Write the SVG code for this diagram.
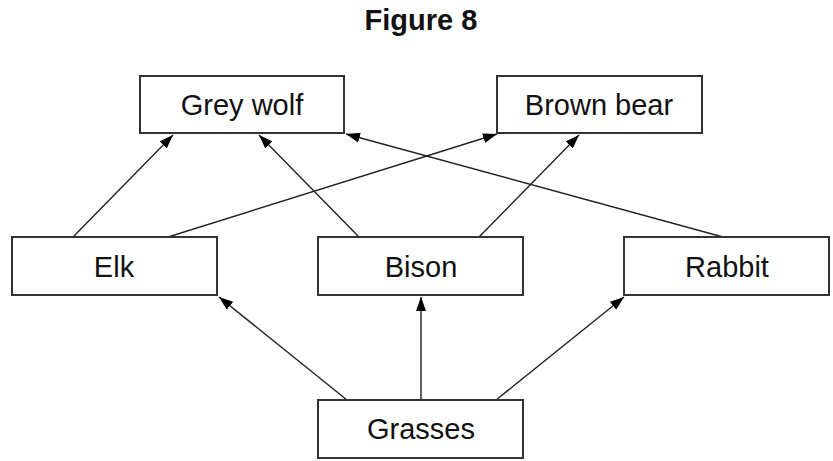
<svg xmlns="http://www.w3.org/2000/svg" width="833" height="461" viewBox="0 0 833 461">
<defs>
<marker id="ah" viewBox="0 0 14 10" refX="14" refY="5" markerWidth="14" markerHeight="10" markerUnits="userSpaceOnUse" orient="auto">
<path d="M0,0 L14,5 L0,10 Z" fill="#000"/>
</marker>
</defs>
<style>
.box{fill:#fff;stroke:#333;stroke-width:2}
.lbl{font-family:"Liberation Sans",Arial,sans-serif;font-size:29px;fill:#111;text-anchor:middle}
.ttl{font-family:"Liberation Sans",Arial,sans-serif;font-size:29px;font-weight:bold;fill:#111;text-anchor:middle}
.con{stroke:#222;stroke-width:1.4;fill:none;marker-end:url(#ah)}
</style>
<rect width="833" height="461" fill="#fff"/>
<text class="ttl" x="421" y="30">Figure 8</text>
<g id="connectors">
<line class="con" x1="73" y1="237" x2="173" y2="135"/>
<line class="con" x1="168" y1="237" x2="497" y2="134"/>
<line class="con" x1="359" y1="237" x2="259" y2="135"/>
<line class="con" x1="479" y1="237" x2="579" y2="135"/>
<line class="con" x1="723" y1="237" x2="346" y2="134"/>
<line class="con" x1="347" y1="400" x2="219" y2="297"/>
<line class="con" x1="421" y1="400" x2="421" y2="297"/>
<line class="con" x1="496" y1="400" x2="624" y2="297"/>
</g>
<g id="grey-wolf"><rect class="box" x="140" y="76" width="204" height="57"/><text class="lbl" x="242" y="115">Grey wolf</text></g>
<g id="brown-bear"><rect class="box" x="497" y="76" width="205" height="57"/><text class="lbl" x="599" y="115">Brown bear</text></g>
<g id="elk"><rect class="box" x="12" y="237" width="205" height="58"/><text class="lbl" x="114" y="277">Elk</text></g>
<g id="bison"><rect class="box" x="318" y="237" width="205" height="58"/><text class="lbl" x="421" y="277">Bison</text></g>
<g id="rabbit"><rect class="box" x="624" y="237" width="205" height="58"/><text class="lbl" x="727" y="277">Rabbit</text></g>
<g id="grasses"><rect class="box" x="318" y="400" width="205" height="58"/><text class="lbl" x="421" y="439">Grasses</text></g>
</svg>
